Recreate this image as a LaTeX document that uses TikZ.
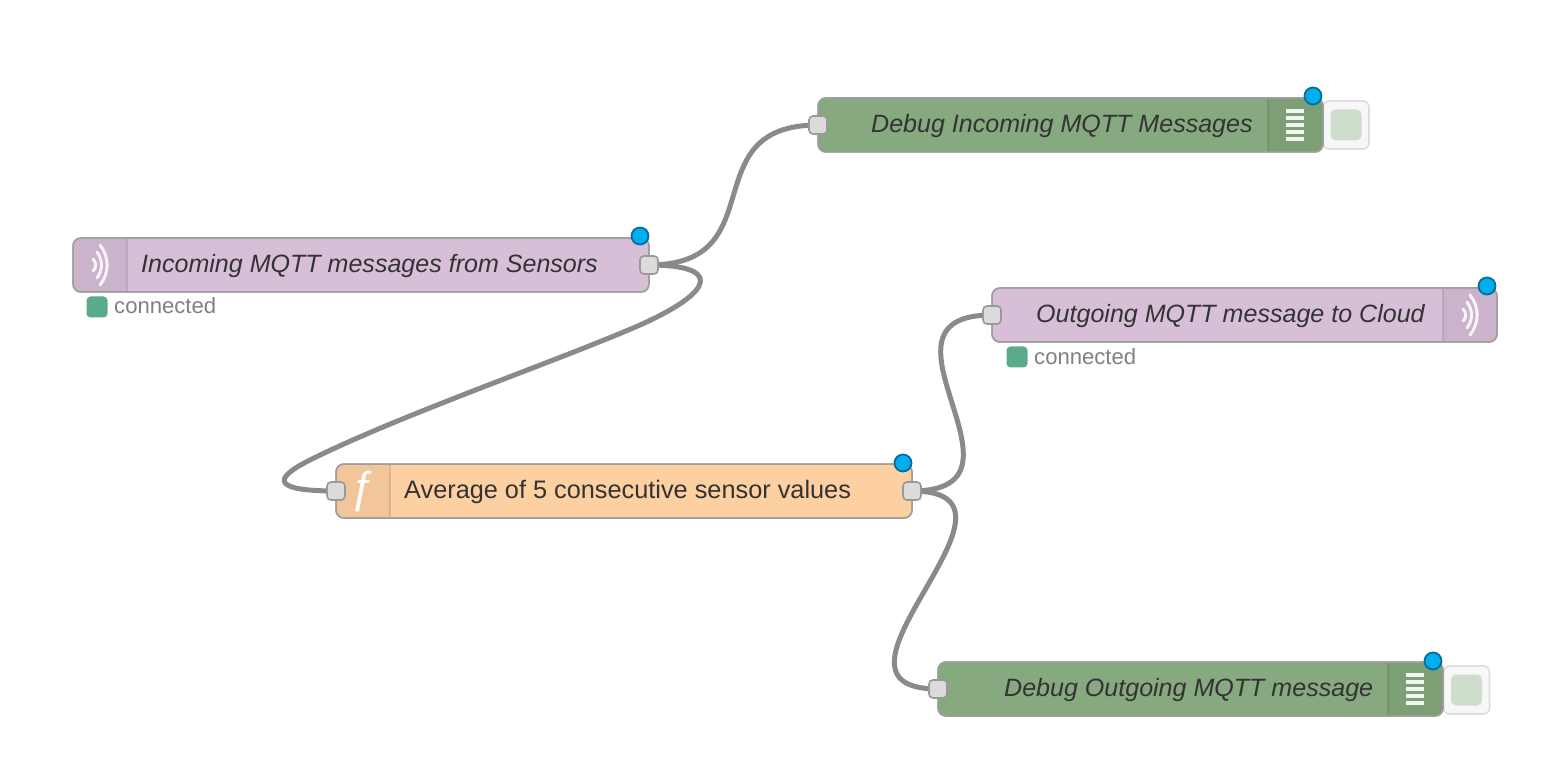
\documentclass[tikz,border=0pt]{standalone}
\usepackage{fontspec}
\setmainfont{Liberation Sans}
\usetikzlibrary{positioning}
\usetikzlibrary{backgrounds}
\definecolor{mqttpink}{HTML}{D8BFD8}
\definecolor{mqtttab}{HTML}{CCB3CC}
\definecolor{debuggreen}{HTML}{87A980}
\definecolor{debugtab}{HTML}{7D9F76}
\definecolor{funcorange}{HTML}{FDD0A2}
\definecolor{functab}{HTML}{F2C59A}
\definecolor{wiregrey}{HTML}{8A8A8A}
\definecolor{statusgreen}{HTML}{5BAA8A}
\definecolor{dotblue}{HTML}{00AEEF}
\definecolor{dotedge}{HTML}{0A6E9C}
\tikzstyle{box}=[draw=black!38,line width=1.5pt,rounded corners=8pt,minimum height=54pt,inner sep=0pt]
\tikzstyle{port}=[draw=black!40,fill=black!14,line width=1.6pt,rounded corners=4pt,minimum size=18pt,inner sep=0pt]
\tikzstyle{changed}=[circle,draw=dotedge,fill=dotblue,line width=1.8pt,minimum size=17pt,inner sep=0pt]
\tikzstyle{wire}=[draw=wiregrey,line width=5pt]
\tikzstyle{title}=[anchor=west,inner sep=0pt,text=black!80,font=\fontsize{25.05}{25}\selectfont\itshape]
\tikzstyle{status}=[fill=statusgreen,rounded corners=4pt,minimum size=21pt,inner sep=0pt]
\tikzstyle{statustext}=[anchor=west,inner sep=0pt,text=black!50,font=\fontsize{22.1}{22}\selectfont]
\tikzstyle{bar}=[draw=white,line width=3.2pt,opacity=0.9]
\tikzstyle{arcs}=[draw=white,line width=3pt,line cap=round,opacity=0.85]

\begin{document}
\begin{tikzpicture}[x=1pt,y=-1pt]
\useasboundingbox (0,0) rectangle (1558,783);

% the nodes
  \foreach \pos/\name/\wid/\col in {{(361,265)/sensors/576/mqttpink}, {(1070.5,125)/debugin/505/debuggreen}, {(1244.5,315)/cloud/505/mqttpink}, {(624,491)/average/576/funcorange}, {(1190.5,689)/debugout/505/debuggreen}}
        \node[box,fill=\col,minimum width=\wid pt] (\name) at \pos {};

% the darker part with the icon, left or right
  \fill[mqtttab] (127,239) -- (127,291) [rounded corners=7pt] -- (74,291) -- (74,239) [sharp corners] -- cycle;
  \fill[functab] (390,465) -- (390,517) [rounded corners=7pt] -- (337,517) -- (337,465) [sharp corners] -- cycle;
  \fill[mqtttab] (1443,289) -- (1443,341) [rounded corners=7pt] -- (1496,341) -- (1496,289) [sharp corners] -- cycle;
  \fill[debugtab] (1268,99) -- (1268,151) [rounded corners=7pt] -- (1322,151) -- (1322,99) [sharp corners] -- cycle;
  \fill[debugtab] (1388,663) -- (1388,715) [rounded corners=7pt] -- (1442,715) -- (1442,663) [sharp corners] -- cycle;
  \foreach \pos/\wid in {{(361,265)/576}, {(1070.5,125)/505}, {(1244.5,315)/505}, {(624,491)/576}, {(1190.5,689)/505}}
        \node[box,minimum width=\wid pt] at \pos {};
  \foreach \x/\ya/\yb in {127/239/291, 390/465/517, 1443/289/341, 1268/99/151, 1388/663/715}
        \draw[black,line width=1.5pt,opacity=0.1] (\x,\ya) -- (\x,\yb);

% labels
  \node[title] (sensorstext) at (141,266) {Incoming MQTT messages from Sensors};
  \node[title] (debugintext) at (871,126) {Debug Incoming MQTT Messages};
  \node[title] (cloudtext) at (1036,316) {Outgoing MQTT message to Cloud};
  \node[title,font=\fontsize{25.3}{25}\selectfont] (averagetext) at (404,492) {Average of 5 consecutive sensor values};
  \node[title] (debugouttext) at (1004,690) {Debug Outgoing MQTT message};

% icons
  \foreach \x/\y in {100/265, 1470/315}
  {
    \draw[arcs] (\x,\y-20) .. controls (\x+9.5,\y-8) and (\x+9.5,\y+8) .. (\x,\y+20);
    \draw[arcs] (\x-3,\y-13) .. controls (\x+3,\y-5) and (\x+3,\y+5) .. (\x-3,\y+13);
    \draw[arcs] (\x-7,\y-6) .. controls (\x-3.5,\y-3) and (\x-3.5,\y+3) .. (\x-7,\y+6);
  }
  \foreach \x/\y in {1295/125, 1415/689}
    \foreach \i in {-14,-7,0,7,14}
      \draw[bar] (\x-9,\y+\i) -- (\x+9,\y+\i);
  \node[text=white,inner sep=0pt,font=\fontsize{44}{44}\selectfont] (ficon) at (364,492) {ƒ};

% buttons next to the debug nodes
  \foreach \pos/\name/\inner in {{(1346,125)/btnin/innerin}, {(1466.5,690)/btnout/innerout}}
  {
    \begin{scope}[on background layer]
      \node[draw=black!13,fill=black!3,line width=1.6pt,rounded corners=6pt,minimum width=46pt,minimum height=48pt,inner sep=0pt] (\name) at \pos {};
    \end{scope}
    \node[fill=debuggreen!40!white,rounded corners=5pt,minimum size=31pt,inner sep=0pt] (\inner) at \pos {};
  }

% status
  \node[status] (sensorsstatus) at (97,307) {};
  \node[statustext] (sensorsconn) at (114,306) {connected};
  \node[status] (cloudstatus) at (1017,357) {};
  \node[statustext] (cloudconn) at (1034,357) {connected};

% blue dots
  \foreach \pos/\name in {{(640,236)/dota}, {(1313,96)/dotb}, {(1487,286)/dotc}, {(903,463)/dotd}, {(1433,661)/dote}}
        \node[changed] (\name) at \pos {};

% ports
  \foreach \pos/\name in {{(649,265)/sensorsout}, {(818,125)/debuginport}, {(992,315)/cloudin}, {(336,491)/averagein}, {(912,491)/averageout}, {(938,689)/debugoutin}}
        \node[port] (\name) at \pos {};

% wires
  \begin{pgfonlayer}{background}
    \path[wire] (sensorsout.center) .. controls (776,265) and (691,125) .. (debuginport.center);
    \path[wire] (sensorsout.center) .. controls (720,265) and (718,290) .. (640,325) .. controls (560,360) and (400,415) .. (310,460) .. controls (270,480) and (275,491) .. (averagein.center);
    \path[wire] (averageout.center) .. controls (1047,491) and (857,315) .. (cloudin.center);
    \path[wire] (averageout.center) .. controls (1052,491) and (798,689) .. (debugoutin.center);
  \end{pgfonlayer}
\end{tikzpicture}
\end{document}
